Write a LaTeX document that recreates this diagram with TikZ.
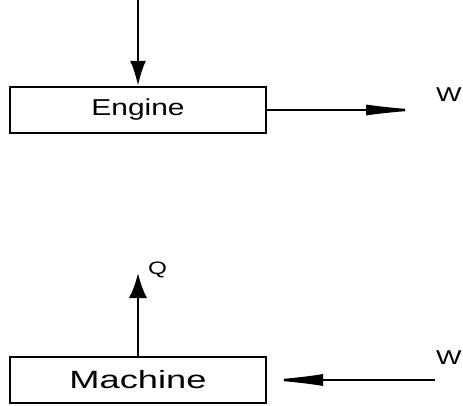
\documentclass[tikz,border=0pt]{standalone}
\usepackage{fontspec}
\setmainfont{Liberation Sans}
\usepackage{graphicx}
\usepackage{tikz}
\usetikzlibrary{positioning, arrows.meta}

\newcommand{\wide}[2]{\scalebox{#1}[1]{#2}}
\tikzset{
  blockbox/.style={draw, line width=2.4pt, minimum width=256pt, minimum height=46pt, inner sep=0pt},
  flow/.style={line width=2.4pt},
  lbl/.style={inner sep=0pt, font=\fontsize{20}{20}\selectfont}
}

\begin{document}
\begin{tikzpicture}[x=1pt, y=-1pt]
\useasboundingbox (0,0) rectangle (463,406);
% engine
\node[blockbox, font=\fontsize{23}{23}\selectfont] (engine) at (138,110) {\wide{1.3}{Engine}\hspace{12pt}};
\coordinate (heatin) at (138,0);
\coordinate (workout) at (424,110);
\draw[flow, -{Latex[length=25pt, width=16pt]}] (heatin) -- (engine.north);
\draw[flow, -{Latex[length=58pt, width=11pt]}] (engine.east) -- (workout);
\node[lbl, anchor=west] (wout) at (436,95) {\wide{1.35}{W}};
% machine
\node[blockbox, font=\fontsize{25}{25}\selectfont] (machine) at (138,380) {\wide{1.45}{Machine}\hspace{8pt}};
\coordinate (heatout) at (138,273);
\coordinate (workin) at (435,380);
\draw[flow, -{Latex[length=25pt, width=18pt]}] (machine.north) -- (heatout);
\node[lbl, font=\fontsize{18}{18}\selectfont, anchor=west] (qout) at (148,270) {\wide{1.35}{Q}};
\draw[flow, -{Latex[length=56pt, width=12pt]}] (workin) -- (machine.east);
\node[lbl, anchor=west] (win) at (436,358) {\wide{1.35}{W}};
\end{tikzpicture}
\end{document}
